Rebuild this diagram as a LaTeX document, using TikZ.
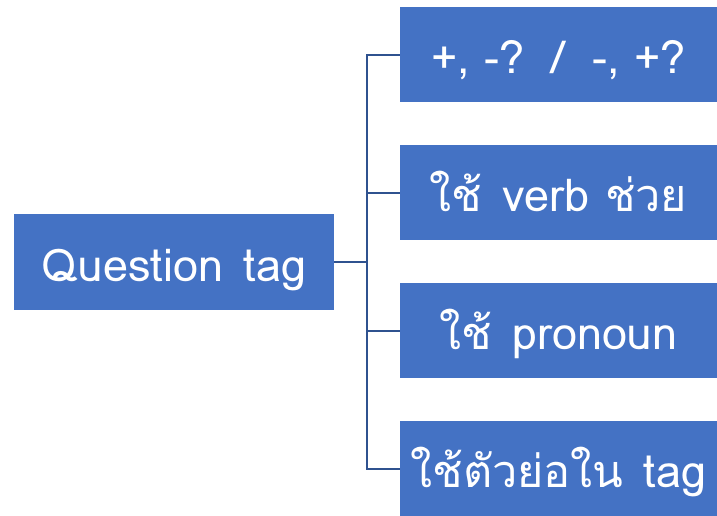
\documentclass[tikz,border=0pt]{standalone}
\usepackage{fontspec}
\newfontfamily\thaifont[Script=Thai]{Loma}
\definecolor{boxblue}{HTML}{4472C4}
\definecolor{linkblue}{HTML}{2F528F}
\begin{document}
\begin{tikzpicture}[x=1pt,y=-1pt,
  bx/.style={fill=boxblue, draw=none, text=white, inner sep=0pt, text height=38pt, text depth=0pt, font=\thaifont\fontsize{45}{50}\selectfont},
  link/.style={draw=linkblue, line width=2pt}]
\useasboundingbox (0,0) rectangle (717,515);
\node[bx, minimum width=320pt, minimum height=96pt] (q) at (174,262) {Question\hspace{0.45em}tag};
\node[bx, minimum width=317pt, minimum height=95pt] (a) at (558.5,54.5) {+, -?\hspace{0.6em}/\hspace{0.6em}-, +?};
\node[bx, minimum width=317pt, minimum height=95pt] (b) at (558.5,192.5) {ใช้\hspace{0.45em}verb ช่วย};
\node[bx, minimum width=317pt, minimum height=95pt] (c) at (558.5,330.5) {ใช้\hspace{0.45em}pronoun};
\node[bx, minimum width=317pt, minimum height=95pt] (d) at (558.5,468.5) {ใช้ตัวย่อใน\hspace{0.45em}tag};
\coordinate (m) at (367,262);
\draw[link] (q.east) -- (m);
\draw[link] (a.west) -| (m);
\draw[link] (b.west) -| (m);
\draw[link] (c.west) -| (m);
\draw[link] (d.west) -| (m);
\end{tikzpicture}
\end{document}
